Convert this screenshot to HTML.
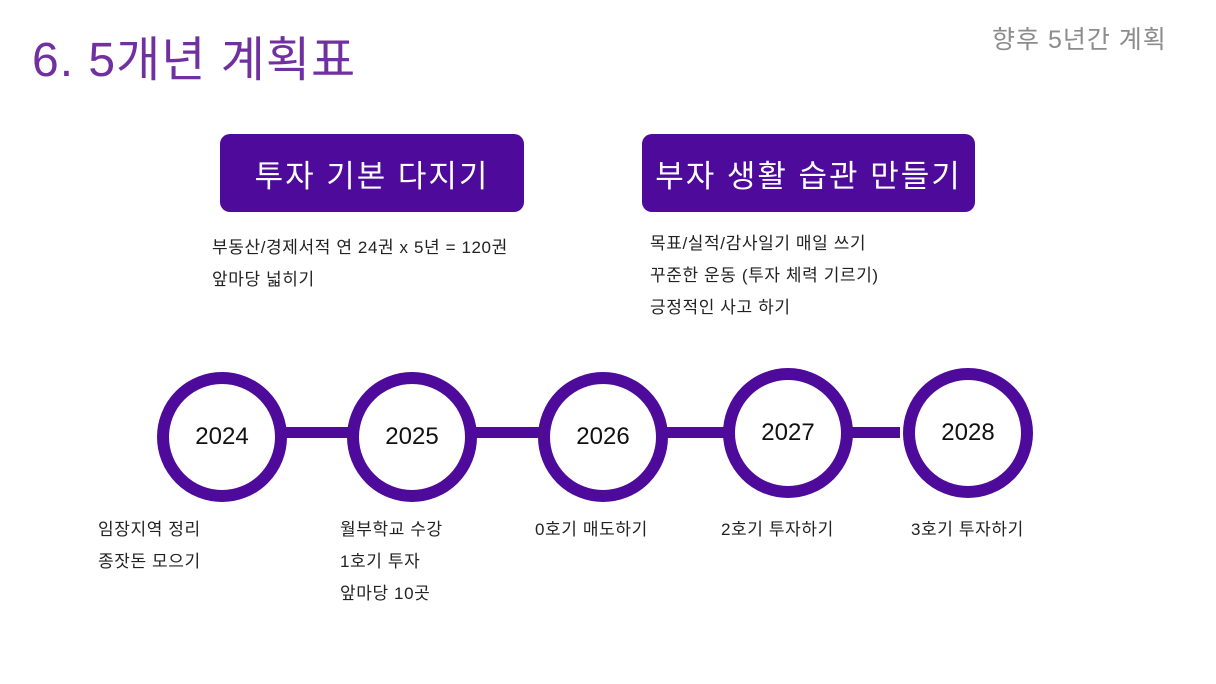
<!DOCTYPE html>
<html><head><meta charset="utf-8"><style>
body{margin:0;width:1216px;height:684px;background:#fff;position:relative;overflow:hidden;font-family:"Liberation Sans","Noto Sans CJK KR",sans-serif}
.a{position:absolute;white-space:nowrap}
.title{left:32px;top:20px;font-size:48px;color:#7030A0;letter-spacing:1px}
.sub{left:992px;top:20px;font-size:25px;color:#8c8c8c;letter-spacing:1px}
.box{position:absolute;background:#4e0a9a;border-radius:10px;color:#fff;font-size:31px;letter-spacing:2px;display:flex;align-items:center;justify-content:center}
.t{font-size:17px;color:#222;line-height:32px;letter-spacing:0.6px}
.c{position:absolute;width:106px;height:106px;border:12px solid #4e0a9a;border-radius:50%;background:#fff;display:flex;align-items:center;justify-content:center;font-size:24px;color:#111}
.bar{position:absolute;height:11px;background:#4e0a9a}
</style></head><body>
<div class="a title">6. 5개년 계획표</div>
<div class="a sub">향후 5년간 계획</div>
<div class="box" style="left:220px;top:134px;width:304px;height:78px">투자 기본 다지기</div>
<div class="box" style="left:642px;top:134px;width:333px;height:78px">부자 생활 습관 만들기</div>
<div class="a t" style="left:212px;top:232px">부동산/경제서적 연 24권 x 5년 = 120권<br>앞마당 넓히기</div>
<div class="a t" style="left:650px;top:228px">목표/실적/감사일기 매일 쓰기<br>꾸준한 운동 (투자 체력 기르기)<br>긍정적인 사고 하기</div>
<div class="bar" style="left:280px;top:427px;width:620px"></div>
<div class="c" style="left:157px;top:372px">2024</div>
<div class="c" style="left:347px;top:372px">2025</div>
<div class="c" style="left:538px;top:372px">2026</div>
<div class="c" style="left:723px;top:368px">2027</div>
<div class="c" style="left:903px;top:368px">2028</div>
<div class="a t" style="left:98px;top:514px">임장지역 정리<br>종잣돈 모으기</div>
<div class="a t" style="left:340px;top:514px">월부학교 수강<br>1호기 투자<br>앞마당 10곳</div>
<div class="a t" style="left:535px;top:514px">0호기 매도하기</div>
<div class="a t" style="left:721px;top:514px">2호기 투자하기</div>
<div class="a t" style="left:911px;top:514px">3호기 투자하기</div>
</body></html>
